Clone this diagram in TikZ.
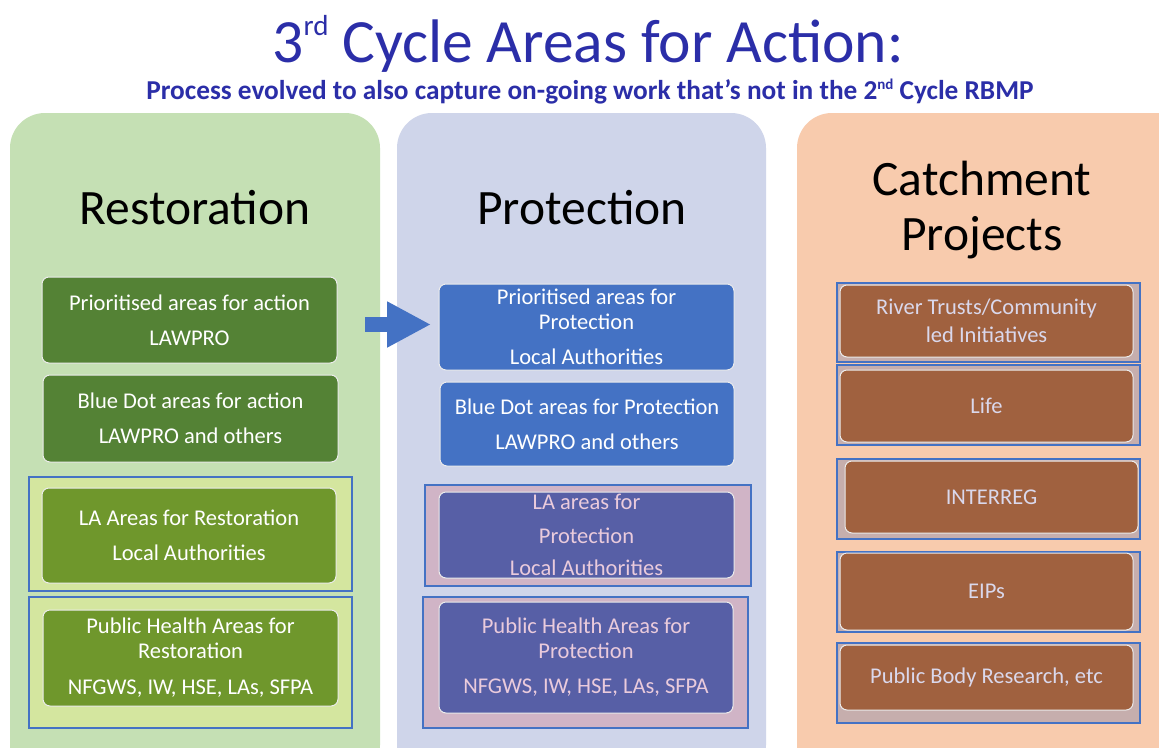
\documentclass[tikz,border=0pt]{standalone}
\usepackage{fontspec}
\setmainfont{Carlito}
\usetikzlibrary{arrows.meta}
\usetikzlibrary{positioning}
\definecolor{titleblue}{HTML}{2B2EA8}
\definecolor{pgreen}{HTML}{C5E0B4}
\definecolor{pblue}{HTML}{CFD5EA}
\definecolor{porange}{HTML}{F8CBAD}
\definecolor{dkgreen}{HTML}{548235}
\definecolor{olgreen}{HTML}{6F972C}
\definecolor{lgframe}{HTML}{D4E69F}
\definecolor{boxblue}{HTML}{4472C4}
\definecolor{boxpurple}{HTML}{575FA6}
\definecolor{pkframe}{HTML}{D0B4C6}
\definecolor{pktext}{HTML}{EACBDC}
\definecolor{boxbrown}{HTML}{A0613F}
\definecolor{brframe}{HTML}{C6AEAD}
\definecolor{lavtext}{HTML}{DAD8EC}
\newcommand{\raisedtext}[3]{\raisebox{#1}{\fontsize{#2}{#2}\selectfont #3}}
\begin{document}
\begin{tikzpicture}[x=1pt, y=-1pt,
    box/.style={draw=white!85!gray, line width=1pt, rounded corners=7pt, align=center, inner sep=0pt, text=white, font=\fontsize{22.5}{25}\selectfont},
    frame/.style={draw=boxblue, line width=1.2pt, inner sep=0pt},
    head/.style={align=center, font=\fontsize{49.5}{55}\selectfont}]
            \clip (0,0) rectangle (1159,747);
            \fill[white] (0,0) rectangle (1159,747);
            % title
            \node[text=titleblue, font=\fontsize{61.5}{64}\selectfont] (title) at (588,44) {3\raisedtext{27pt}{29}{rd} Cycle Areas for Action:};
            \node[text=titleblue, font=\fontsize{27.3}{29}\selectfont\bfseries] (subtitle) at (590,92) {Process evolved to also capture on-going work that’s not in the 2\raisedtext{10pt}{15}{nd} Cycle RBMP};
            % panels
            \fill[pgreen, rounded corners=35pt] (10,113) rectangle (380,780);
            \fill[pblue, rounded corners=35pt] (397,113) rectangle (766,780);
            \fill[porange, rounded corners=35pt] (797,113) rectangle (1190,780);
            \node[head] (restoration) at (195,208) {Restoration};
            \node[head] (protection) at (582,208) {Protection};
            \node[head] (catchment) at (982,210) {Catchment\\Projects};
            
            % restoration column
            \node[box, fill=dkgreen, minimum width=295pt, minimum height=86pt] (resprio) at (189.5,320) {Prioritised areas for action\\[10pt]LAWPRO};
            \node[box, fill=dkgreen, minimum width=295pt, minimum height=87pt] (resblue) at (190.5,418.5) {Blue Dot areas for action\\[10pt]LAWPRO and others};
            \node[frame, fill=lgframe, minimum width=323pt, minimum height=114pt] (reslaframe) at (190.5,534) {};
            \node[box, fill=olgreen, minimum width=294pt, minimum height=95pt] (resla) at (189,535.5) {LA Areas for Restoration\\[10pt]Local Authorities};
            \node[frame, fill=lgframe, minimum width=323pt, minimum height=131pt] (resphframe) at (190.5,662.5) {};
            \node[box, fill=olgreen, minimum width=295pt, minimum height=96pt] (resph) at (190.5,658) {Public Health Areas for\\Restoration\\[11pt]NFGWS, IW, HSE, LAs, SFPA};
            
            % protection column
            \node[box, fill=boxblue, minimum width=295pt, minimum height=86pt] (proprio) at (586.5,327) {Prioritised areas for\\Protection\\[10pt]Local Authorities};
            \node[box, fill=boxblue, minimum width=294pt, minimum height=84pt] (problue) at (587,424) {Blue Dot areas for Protection\\[10pt]LAWPRO and others};
            \node[frame, fill=pkframe, minimum width=326pt, minimum height=101pt] (prolaframe) at (588,535.5) {};
            \node[box, fill=boxpurple, text=pktext, minimum width=295pt, minimum height=86pt] (prola) at (586.5,535) {LA areas for\\[9pt]Protection\\[7pt]Local Authorities};
            \node[frame, fill=pkframe, minimum width=325pt, minimum height=131pt] (prophframe) at (585.5,662.5) {};
            \node[box, fill=boxpurple, text=pktext, minimum width=294pt, minimum height=111pt] (proph) at (586,657.5) {Public Health Areas for\\Protection\\[10pt]NFGWS, IW, HSE, LAs, SFPA};
            
            % catchment column
            \node[frame, fill=brframe, minimum width=303pt, minimum height=79pt] (riverframe) at (988.5,322.5) {};
            \node[box, fill=boxbrown, text=lavtext, minimum width=293pt, minimum height=72pt] (river) at (986.5,321) {River Trusts/Community\\[3pt]led Initiatives};
            \node[frame, fill=brframe, minimum width=303pt, minimum height=80pt] (lifeframe) at (988.5,405) {};
            \node[box, fill=boxbrown, text=lavtext, minimum width=293pt, minimum height=72pt] (life) at (986.5,406) {Life};
            \node[frame, fill=brframe, minimum width=303pt, minimum height=80pt] (interframe) at (988.5,499) {};
            \node[box, fill=boxbrown, text=lavtext, minimum width=293pt, minimum height=72pt] (interreg) at (991.5,497) {INTERREG};
            \node[frame, fill=brframe, minimum width=303pt, minimum height=80pt] (eipframe) at (988.5,592) {};
            \node[box, fill=boxbrown, text=lavtext, minimum width=293pt, minimum height=77pt] (eips) at (986.5,591.5) {EIPs};
            \node[frame, fill=brframe, minimum width=303pt, minimum height=80pt] (bodyframe) at (988.5,683) {};
            \node[box, fill=boxbrown, text=lavtext, minimum width=293pt, minimum height=65pt] (body) at (986.5,677.5) {Public Body Research, etc};
            
            % arrow between first boxes
            \coordinate (arrstart) at (365,324.5);
            \coordinate (arrend) at (431,324.5);
            \draw[boxblue, line width=15pt, -{Triangle[length=44pt, width=43pt]}] (arrstart) -- (arrend);
        \end{tikzpicture}
\end{document}
